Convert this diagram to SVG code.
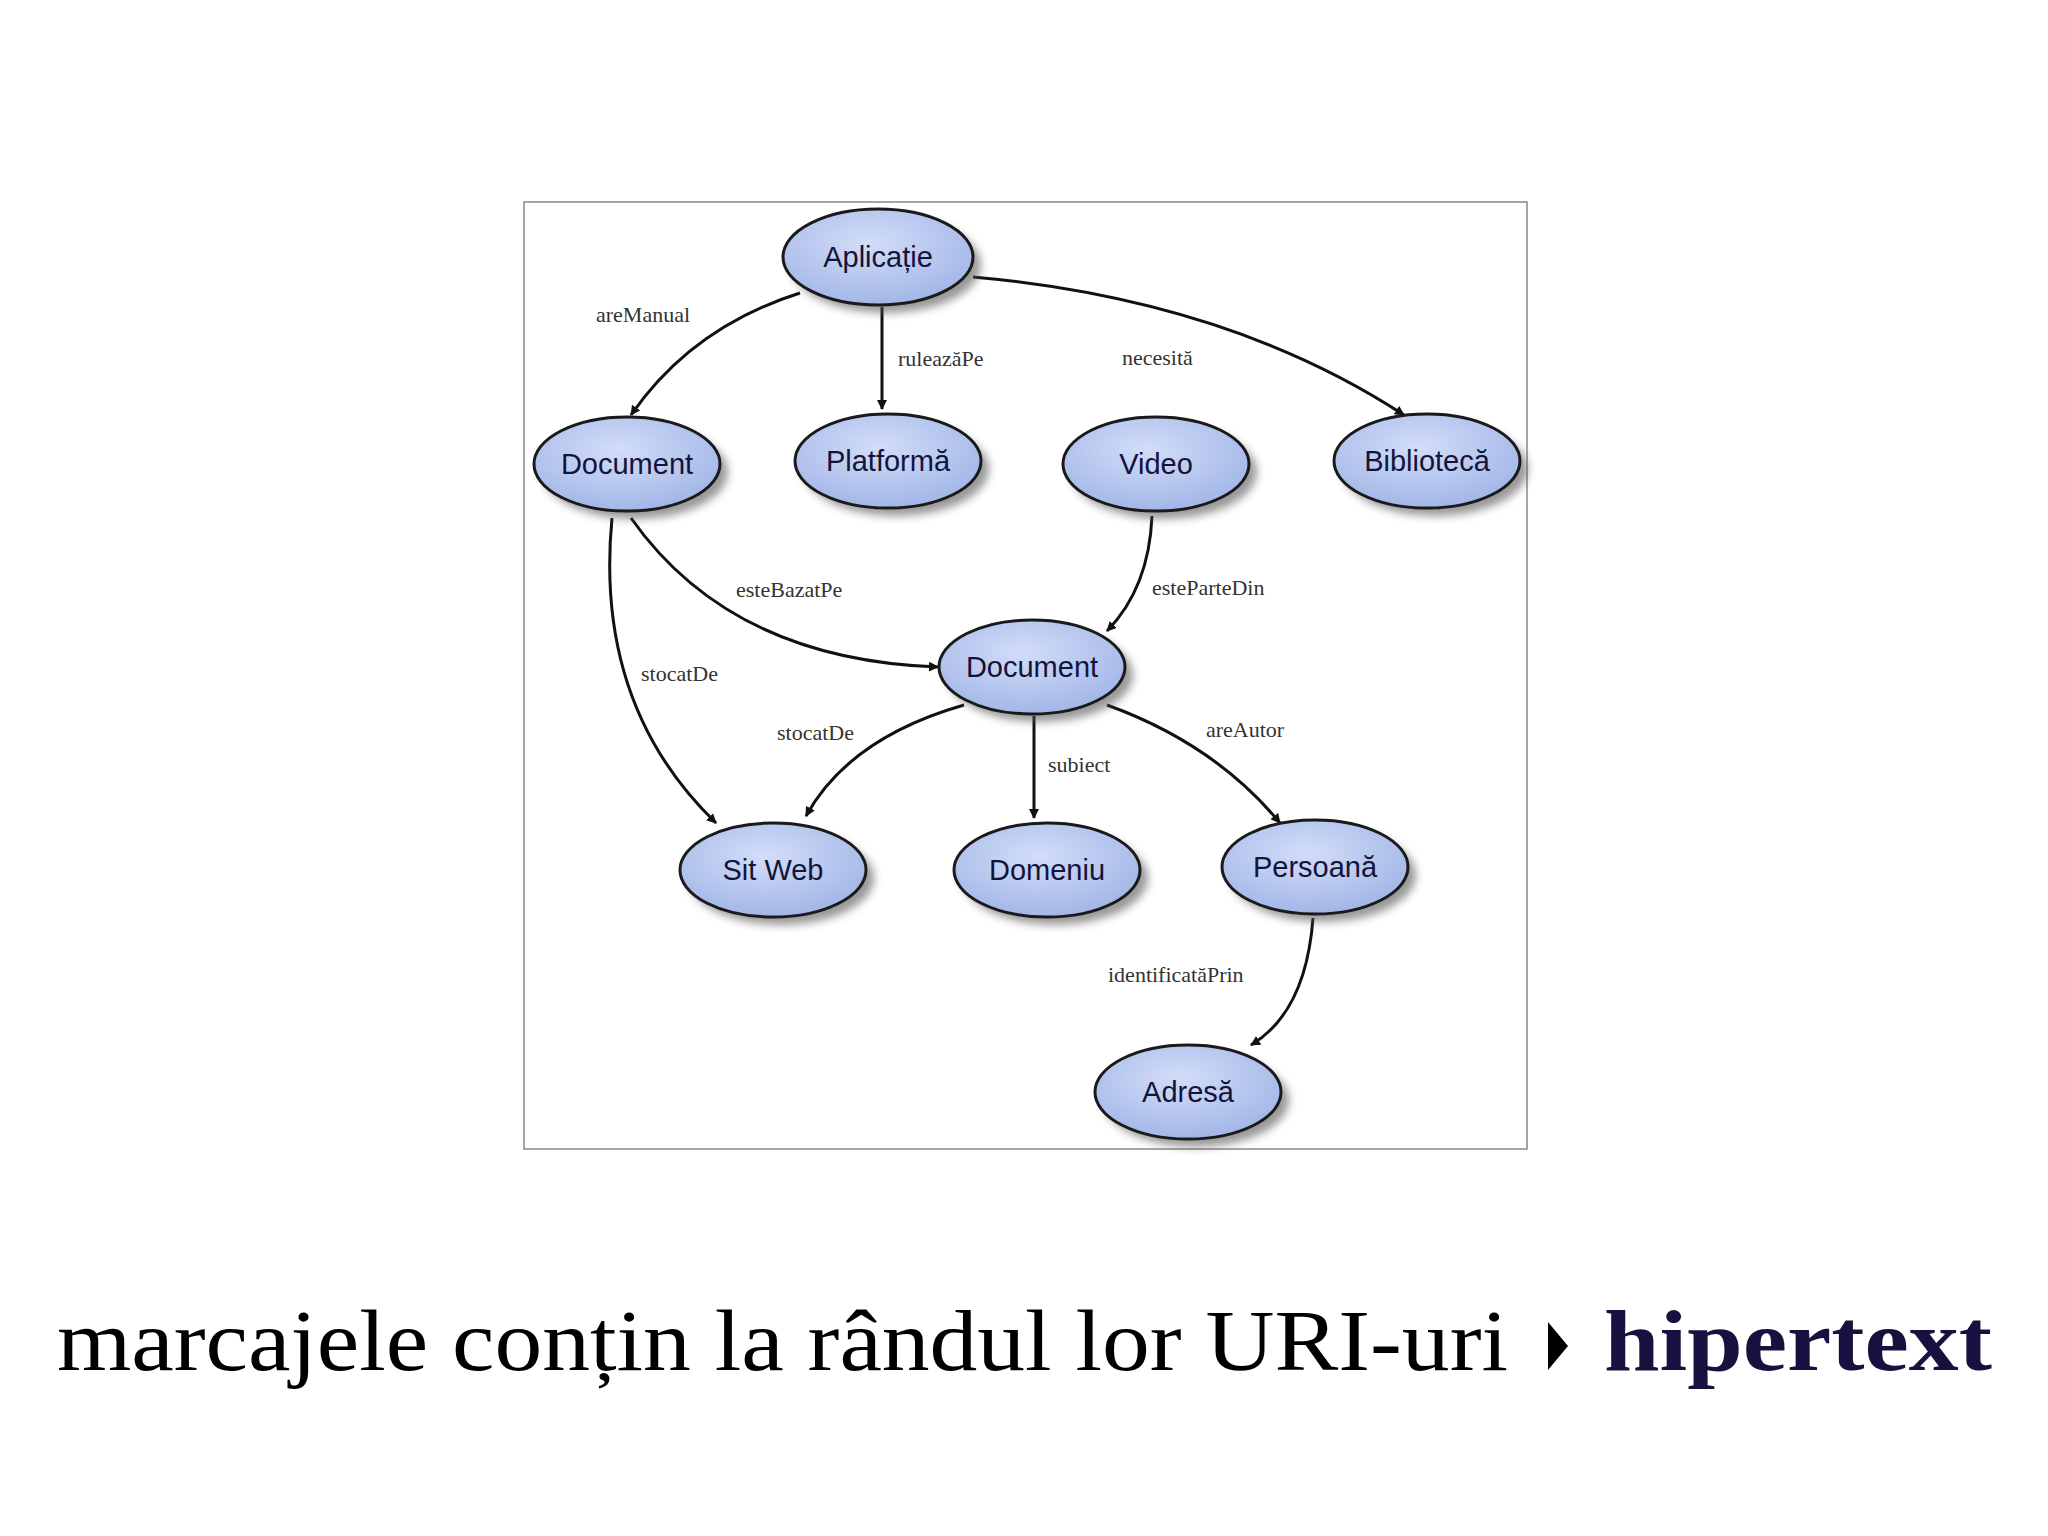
<svg xmlns="http://www.w3.org/2000/svg" width="2048" height="1536" viewBox="0 0 2048 1536">
<defs>
<radialGradient id="g" cx="0.45" cy="0.35" r="0.7"><stop offset="0" stop-color="#d2ddf8"/><stop offset="1" stop-color="#9fb3e6"/></radialGradient>
<filter id="sh" x="-20%" y="-20%" width="150%" height="160%"><feGaussianBlur stdDeviation="4"/></filter>
<marker id="a" markerWidth="10" markerHeight="10" refX="9" refY="5" orient="auto" markerUnits="userSpaceOnUse" viewBox="0 0 10 10"><path d="M0,0 L10,5 L0,10 Z" fill="#111"/></marker>
</defs>
<style>
.n ellipse.b{fill:url(#g);stroke:#1a1a1a;stroke-width:3}
.n ellipse.s{fill:#555;opacity:0.6;filter:url(#sh)}
.n text{font-family:"Liberation Sans",Arial,sans-serif;font-size:29px;fill:#14143a;text-anchor:middle}
.e path{fill:none;stroke:#111;stroke-width:3;marker-end:url(#a)}
.l{font-family:"Liberation Serif","Times New Roman",serif;font-size:22px;fill:#333}
</style>
<rect width="2048" height="1536" fill="#fff"/>
<rect x="524" y="202" width="1003" height="947" fill="#fff" stroke="#888" stroke-width="1.5"/>
<g id="edges" class="e">
<path d="M800,293 Q692,327 631,415" style="marker-end:url(#a)" transform="scale(1)"/>
<path d="M882,307 L882,409"/>
<path d="M973,277 Q1228,300 1404,415"/>
<path d="M631,518 Q731,660 938,667"/>
<path d="M612,518 Q594,705 716,823"/>
<path d="M1152,516 Q1149,588 1107,631"/>
<path d="M964,705 Q849,738 806,816"/>
<path d="M1034,716 L1034,818"/>
<path d="M1107,705 Q1215,744 1280,823"/>
<path d="M1313,918 Q1306,1012 1251,1045"/>
</g>
<g id="labels" class="l">
<text x="596" y="322">areManual</text>
<text x="898" y="366">ruleazăPe</text>
<text x="1122" y="365">necesită</text>
<text x="736" y="597">esteBazatPe</text>
<text x="1152" y="595">esteParteDin</text>
<text x="641" y="681">stocatDe</text>
<text x="777" y="740">stocatDe</text>
<text x="1048" y="772">subiect</text>
<text x="1206" y="737">areAutor</text>
<text x="1108" y="982">identificatăPrin</text>
</g>
<g id="n1" class="n"><ellipse class="s" cx="886" cy="265" rx="95" ry="48"/><ellipse class="b" cx="878" cy="257" rx="95" ry="48"/><text x="878" y="267">Aplicație</text></g>
<g id="n2" class="n"><ellipse class="s" cx="635" cy="472" rx="93" ry="47"/><ellipse class="b" cx="627" cy="464" rx="93" ry="47"/><text x="627" y="474">Document</text></g>
<g id="n3" class="n"><ellipse class="s" cx="896" cy="469" rx="93" ry="47"/><ellipse class="b" cx="888" cy="461" rx="93" ry="47"/><text x="888" y="471">Platformă</text></g>
<g id="n4" class="n"><ellipse class="s" cx="1164" cy="472" rx="93" ry="47"/><ellipse class="b" cx="1156" cy="464" rx="93" ry="47"/><text x="1156" y="474">Video</text></g>
<g id="n5" class="n"><ellipse class="s" cx="1435" cy="469" rx="93" ry="47"/><ellipse class="b" cx="1427" cy="461" rx="93" ry="47"/><text x="1427" y="471">Bibliotecă</text></g>
<g id="n6" class="n"><ellipse class="s" cx="1040" cy="675" rx="93" ry="47"/><ellipse class="b" cx="1032" cy="667" rx="93" ry="47"/><text x="1032" y="677">Document</text></g>
<g id="n7" class="n"><ellipse class="s" cx="781" cy="878" rx="93" ry="47"/><ellipse class="b" cx="773" cy="870" rx="93" ry="47"/><text x="773" y="880">Sit Web</text></g>
<g id="n8" class="n"><ellipse class="s" cx="1055" cy="878" rx="93" ry="47"/><ellipse class="b" cx="1047" cy="870" rx="93" ry="47"/><text x="1047" y="880">Domeniu</text></g>
<g id="n9" class="n"><ellipse class="s" cx="1323" cy="875" rx="93" ry="47"/><ellipse class="b" cx="1315" cy="867" rx="93" ry="47"/><text x="1315" y="877">Persoană</text></g>
<g id="n10" class="n"><ellipse class="s" cx="1196" cy="1100" rx="93" ry="47"/><ellipse class="b" cx="1188" cy="1092" rx="93" ry="47"/><text x="1188" y="1102">Adresă</text></g>
<text x="57" y="1370" font-family="Liberation Serif,serif" font-size="86" fill="#000" textLength="1451" lengthAdjust="spacingAndGlyphs">marcajele conțin la rândul lor URI-uri</text>
<path d="M1548,1322 L1568,1346 L1548,1370 Z" fill="#000"/>
<text x="1604" y="1370" font-family="Liberation Serif,serif" font-size="86" font-weight="bold" fill="#1a1040" textLength="388" lengthAdjust="spacingAndGlyphs">hipertext</text>
</svg>
